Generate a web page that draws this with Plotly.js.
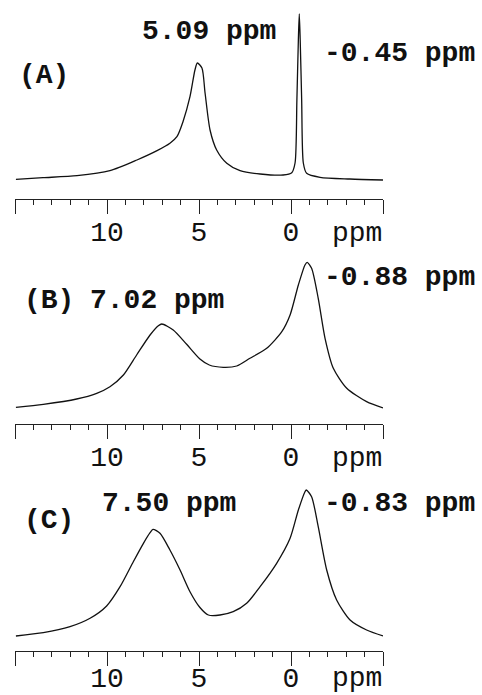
<!DOCTYPE html>
<html>
<head>
<meta charset="utf-8">
<script src="https://cdn.plot.ly/plotly-3.0.1.min.js"></script>
<style>
  html, body { margin: 0; padding: 0; background: #fff; }
  #chart { width: 482px; height: 695px; }
</style>
</head>
<body>
<div id="chart"></div>
<script>
// ---- Data (chemical shift in ppm, intensity in arbitrary units) ----
const ppmA = [14.95, 13.48, 11.63, 9.84, 8.37, 7.28, 6.58, 6.20, 5.87, 5.49, 5.22, 5.09, 4.84, 4.67, 4.40, 4.04, 3.49, 2.77, 1.68, 0.43, -0.04, -0.22, -0.32, -0.40, -0.45, -0.50, -0.58, -0.67, -0.85, -1.58, -3.20, -5.00];
const intA = [0.7, 2.3, 4.3, 9.3, 20, 29.3, 36.7, 43.3, 58.3, 83.3, 110, 117, 112, 87, 50, 30, 16.7, 9.3, 6, 5, 7.3, 17, 80, 140, 166, 140, 80, 17, 6.7, 2.7, 1, 0];

const ppmB = [14.95, 13.46, 11.65, 10.56, 9.84, 9.11, 8.39, 7.66, 7.21, 7.02, 6.40, 5.67, 4.95, 4.44, 3.68, 2.95, 2.23, 1.32, 0.50, 0.05, -0.40, -0.76, -0.88, -1.12, -1.48, -1.85, -2.30, -3.03, -4.11, -5.00];
const intB = [0.7, 3.7, 9, 14.7, 21.3, 33, 53, 73, 82.3, 84, 78, 63.7, 49, 43, 40.7, 42, 49.7, 59.7, 76.3, 93, 123, 143, 145.7, 139.7, 109.7, 69.7, 39.7, 19.7, 6.3, 0];

const ppmC = [14.95, 13.46, 12.01, 10.92, 10.02, 9.29, 8.57, 8.02, 7.66, 7.50, 7.12, 6.58, 6.03, 5.49, 4.95, 4.49, 3.86, 3.14, 2.41, 1.68, 0.78, 0.05, -0.40, -0.76, -0.83, -1.12, -1.48, -1.94, -2.48, -3.21, -4.11, -5.00];
const intC = [0, 3.3, 9.3, 17.7, 30, 49.3, 74.3, 92.7, 103.3, 106.7, 102.7, 86, 66, 44.3, 28.5, 21, 21, 24.3, 32.7, 49.3, 72.7, 97.7, 126, 144.3, 146, 139.3, 109.3, 66, 36, 16, 6, 0];

const tickVals = [15, 10, 5, 0, -5];
const tickText = ["", "10", "5", "0", ""];
const axisUnit = "ppm";

const panelLabels = ["(A)", "(B)", "(C)"];
const peakLabels = [
  ["5.09 ppm", "-0.45 ppm"],
  ["7.02 ppm", "-0.88 ppm"],
  ["7.50 ppm", "-0.83 ppm"]
];

// ---- Layout helpers ----
const W = 482, H = 695, ML = 15, MR = 99;
const PW = W - ML - MR;
const px2x = px => (px - ML) / PW;
const py2y = py => 1 - py / H;

const MONO = "Liberation Mono, Courier New, monospace";
const lineStyle = { color: "#111", width: 1.3, shape: "spline", smoothing: 0.7 };

const traces = [
  { x: ppmA, y: intA, xaxis: "x", yaxis: "y" },
  { x: ppmB, y: intB, xaxis: "x2", yaxis: "y2" },
  { x: ppmC, y: intC, xaxis: "x3", yaxis: "y3" }
].map(t => Object.assign(t, { type: "scatter", mode: "lines", line: lineStyle, hoverinfo: "skip", showlegend: false }));

function xAxis(anchor, standoff) {
  return {
    anchor: anchor,
    domain: [0, 1],
    range: [15, -5],
    showgrid: false, zeroline: false,
    showline: true, linecolor: "#222", linewidth: 1,
    tickmode: "array", tickvals: tickVals, ticktext: tickText,
    ticks: "outside", ticklen: 14, tickwidth: 1, tickcolor: "#222",
    ticklabelstandoff: standoff,
    tickfont: { family: MONO, size: 28, color: "#111" },
    minor: { dtick: 1, tick0: 0, ticks: "outside", ticklen: 5, tickwidth: 1, tickcolor: "#222", showgrid: false },
    fixedrange: true
  };
}
function yAxis(pxTop, pxBottom, lo, hi) {
  return {
    domain: [py2y(pxBottom), py2y(pxTop)],
    range: [lo, hi],
    visible: false, showgrid: false, zeroline: false, fixedrange: true
  };
}

function ann(text, pxLeft, pyCenter, bold, size) {
  return {
    text: text, xref: "paper", yref: "paper",
    x: px2x(pxLeft), y: py2y(pyCenter),
    xanchor: "left", yanchor: "middle", showarrow: false,
    font: { family: MONO, size: size || 28, color: "#111", weight: bold ? "bold" : "normal" }
  };
}

const annotations = [
  ann(panelLabels[0], 17, 75, true),
  ann(peakLabels[0][0], 140, 32, true),
  ann(peakLabels[0][1], 322, 53, true),
  ann(panelLabels[1], 22, 300, true),
  ann(peakLabels[1][0], 88, 300, true),
  ann(peakLabels[1][1], 322, 277, true),
  ann(panelLabels[2], 22, 520, true),
  ann(peakLabels[2][0], 100, 503, true),
  ann(peakLabels[2][1], 322, 503, true),
  ann(axisUnit, 330, 233, false),
  ann(axisUnit, 330, 458, false),
  ann(axisUnit, 330, 678, false)
];

const layout = {
  width: W, height: H,
  margin: { l: ML, r: MR, t: 0, b: 0 },
  paper_bgcolor: "#fff", plot_bgcolor: "rgba(0,0,0,0)",
  showlegend: false,
  xaxis: xAxis("y", -7),
  xaxis2: xAxis("y2", -7),
  xaxis3: xAxis("y3", -13),
  yaxis: yAxis(10, 199, -19, 170),
  yaxis2: yAxis(255, 424, -16, 153),
  yaxis3: yAxis(485, 651, -15, 151),
  annotations: annotations
};

Plotly.newPlot("chart", traces, layout, { staticPlot: true, displayModeBar: false });
</script>
</body>
</html>
